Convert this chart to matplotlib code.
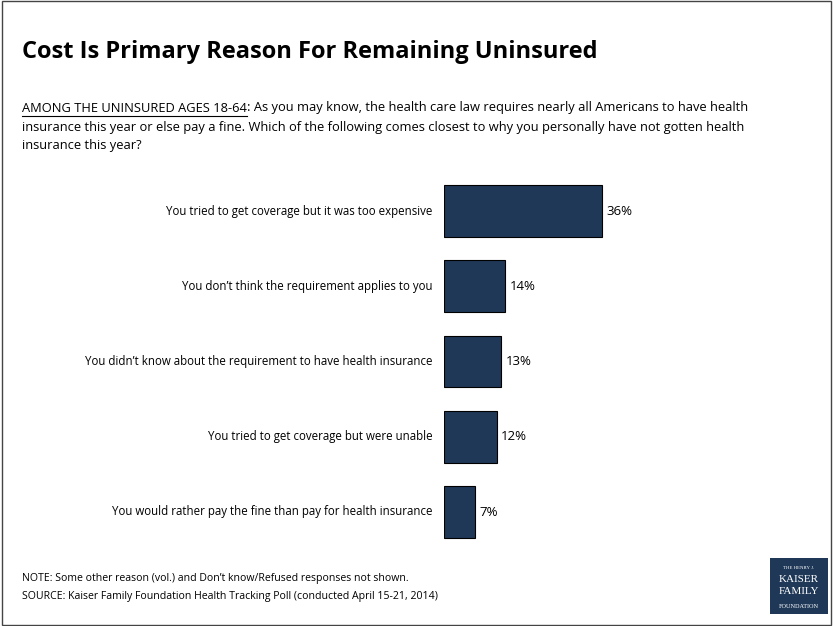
import matplotlib.pyplot as plt
from matplotlib.patches import Rectangle

categories = [
    "You tried to get coverage but it was too expensive",
    "You don\u2019t think the requirement applies to you",
    "You didn\u2019t know about the requirement to have health insurance",
    "You tried to get coverage but were unable",
    "You would rather pay the fine than pay for health insurance",
]
values = [36, 14, 13, 12, 7]

navy = "#1f3858"
W, H = 833, 626
fig = plt.figure(figsize=(W / 100, H / 100), dpi=100)
fig.patches.append(Rectangle((0.002, 0.002), 0.996, 0.996, transform=fig.transFigure,
                             fill=False, edgecolor="#444444", linewidth=1))

def fx(px):
    return px / W

def fy(py):
    return 1 - py / H

fig.text(fx(22), fy(52), "Cost Is Primary Reason For Remaining Uninsured",
         fontsize=17, fontweight="bold", va="center", family="Open Sans")

fs = 9.3
lead = fig.text(fx(22), fy(108), "AMONG THE UNINSURED AGES 18-64", fontsize=fs,
                va="center", family="Open Sans")
fig.canvas.draw()
bb = lead.get_window_extent()
fig.add_artist(plt.Line2D([bb.x0 / W, bb.x1 / W], [fy(116), fy(116)],
                          color="black", linewidth=0.8))
fig.text(bb.x1 / W, fy(108),
         ": As you may know, the health care law requires nearly all Americans to have health",
         fontsize=fs, va="center", family="Open Sans")
fig.text(fx(22), fy(127),
         "insurance this year or else pay a fine. Which of the following comes closest to why you personally have not gotten health",
         fontsize=fs, va="center", family="Open Sans")
fig.text(fx(22), fy(146), "insurance this year?", fontsize=fs, va="center", family="Open Sans")

# bar axes: 1 y unit = 75.25 px, bars start at x=444, 4.39 px per percent
ax = fig.add_axes([fx(444), fy(550), 1 - fx(444), (550 - 170) / H])
pos = list(range(len(values)))
ax.barh(pos, values, height=0.69, color=navy, edgecolor="black", linewidth=0.8)
ax.set_ylim(4.505, -0.545)
ax.set_xlim(0, (W - 444) / 4.39)
ax.axis("off")
for p, v, c in zip(pos, values, categories):
    ax.text(v + 1.0, p, f"{v}%", va="center", ha="left", fontsize=9.5, family="Open Sans")
    ax.text(-2.7, p, c, va="center", ha="right", fontsize=8.3, family="Open Sans")

fig.text(fx(22), fy(578),
         "NOTE: Some other reason (vol.) and Don\u2019t know/Refused responses not shown.",
         fontsize=7.6, va="center", family="Open Sans")
fig.text(fx(22), fy(596),
         "SOURCE: Kaiser Family Foundation Health Tracking Poll (conducted April 15-21, 2014)",
         fontsize=7.6, va="center", family="Open Sans")

# logo
fig.patches.append(Rectangle((fx(770), fy(614)), fx(58), 56 / H, transform=fig.transFigure,
                             facecolor=navy, edgecolor="none"))
fig.text(fx(799), fy(568), "THE HENRY J.", color="white", fontsize=3.5, ha="center",
         va="center", family="Liberation Serif")
for yy, t in [(579, "KAISER"), (592, "FAMILY"), (606, "FOUNDATION")]:
    fig.text(fx(799), fy(yy), t, color="white", fontsize=8 if t != "FOUNDATION" else 4.5,
             ha="center", va="center", family="Liberation Serif")

fig.savefig("out.png", dpi=100)
